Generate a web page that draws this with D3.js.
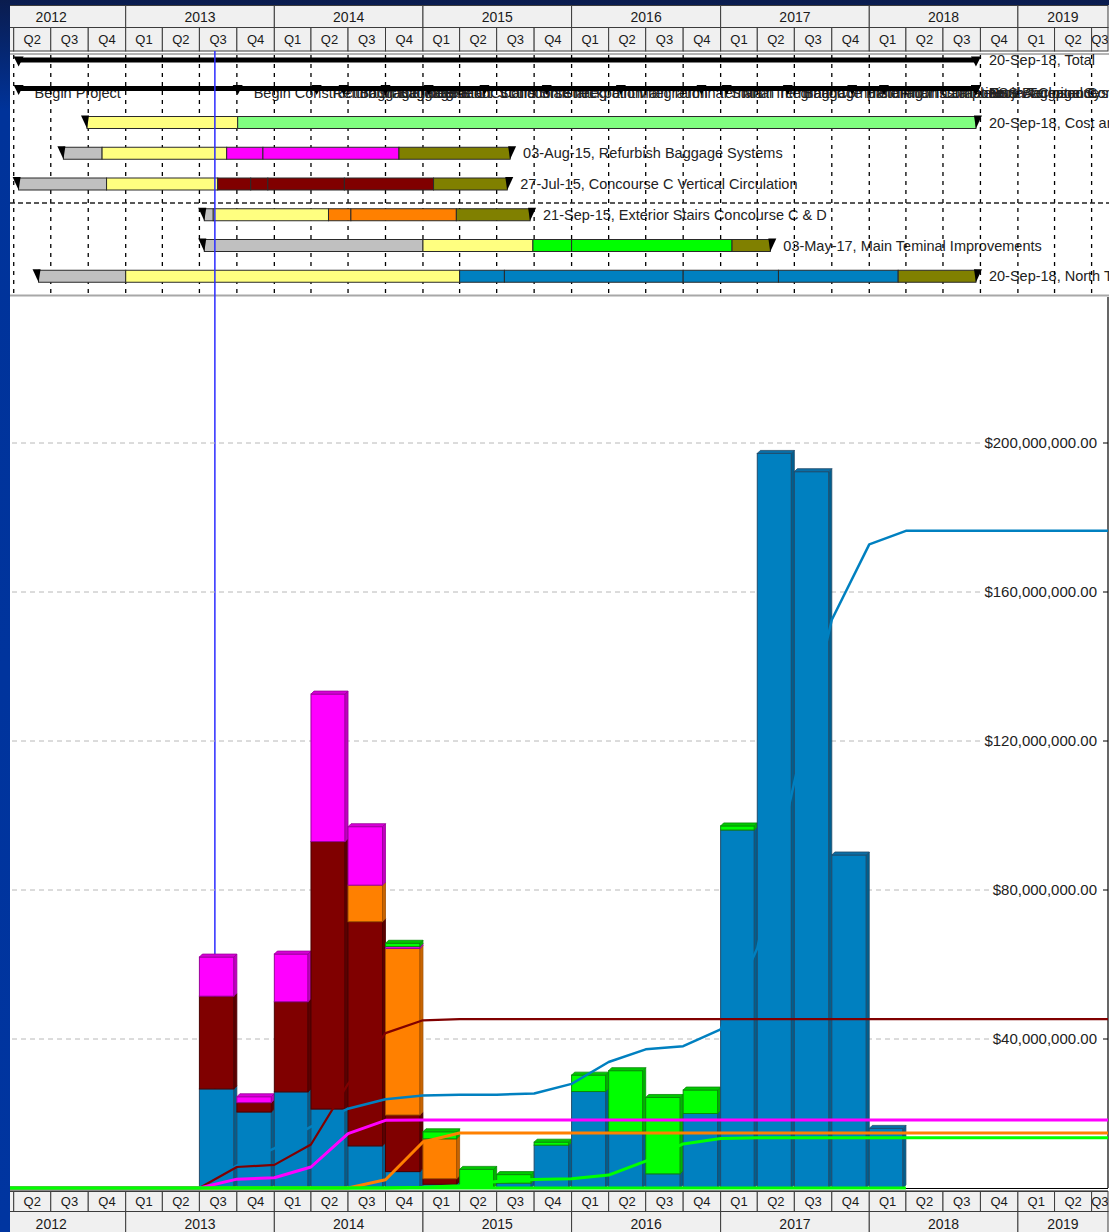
<!DOCTYPE html>
<html>
<head>
<meta charset="utf-8">
<title>Program Schedule and Quarterly Cost</title>
<script src="https://cdn.jsdelivr.net/npm/d3@7/dist/d3.min.js"></script>
<style>
  html, body { margin: 0; padding: 0; overflow: hidden; background: #003399; }
  svg { display: block; }
  text { font-family: "Liberation Sans", Arial, Helvetica, sans-serif; }
</style>
</head>
<body>
<svg id="chart" width="1109" height="1232"></svg>
<script>
// ---------- calendar ----------
const yearLabels = ["2012", "2013", "2014", "2015", "2016", "2017", "2018", "2019"];
const quarterLabels = ["Q1", "Q2", "Q3", "Q4"];
const viewStart = "2012-01-01";
const statusDate = "2013-08-08";

// ---------- schedule ----------
const totalSpan = ["2012-04-13", "2018-09-20"];
const totalLabel = "20-Sep-18, Total";

const milestoneDates = [
  "2012-04-13", "2013-10-03", "2014-04-15", "2014-06-20", "2014-10-01",
  "2015-01-15", "2015-06-01", "2015-11-01", "2016-05-01", "2016-11-15",
  "2017-01-16", "2017-06-15", "2017-11-20", "2018-02-06",
  "2018-09-20", "2018-09-20", "2018-09-20", "2018-09-20"
];
const milestoneNames = [
  "Begin Project", "Begin Construction Management", "Refurbish Baggage Start",
  "Baggage Integration", "Concourse C Circulation Start", "Exterior Stairs Start",
  "Concourse Integration", "Checkpoint Integration", "Main Terminal Start",
  "Terminal Integration", "Main Terminal Complete", "Baggage Handling Installation",
  "Installation Complete", "Final Installation",
  "North Terminal Complete", "ESS Baggage Systems", "Project Closeout", "Final Acceptance"
];

const taskKeys = ["cost", "baggage", "concourse", "stairs", "mainTerm", "north"];
const taskLabels = [
  "20-Sep-18, Cost and Schedule Management",
  "03-Aug-15, Refurbish Baggage Systems",
  "27-Jul-15, Concourse C Vertical Circulation",
  "21-Sep-15, Exterior Stairs Concourse C & D",
  "03-May-17, Main Teminal Improvements",
  "20-Sep-18, North Terminal Expansion"
];
// boundaries of each task's phases
const costBreaks      = ["2012-09-28", "2013-10-03", "2018-09-20"];
const baggageBreaks   = ["2012-08-01", "2012-11-04", "2013-09-06", "2013-12-04", "2014-11-03", "2015-08-03"];
const concourseBreaks = ["2012-04-13", "2012-11-15", "2013-08-15", "2013-11-04", "2013-12-16", "2014-06-22", "2015-01-27", "2015-07-27"];
const stairsBreaks    = ["2013-07-13", "2013-08-04", "2014-05-14", "2014-07-08", "2015-03-24", "2015-09-21"];
const mainTermBreaks  = ["2013-07-13", "2015-01-01", "2015-09-28", "2016-01-01", "2017-01-29", "2017-05-03"];
const northBreaks     = ["2012-06-01", "2013-01-01", "2015-04-01", "2015-07-20", "2016-10-01", "2017-05-23", "2018-03-13", "2018-09-20"];
// phase of each interval between breaks
const costPhases      = ["design", "build"];
const baggagePhases   = ["pre", "design", "build", "build", "close"];
const concoursePhases = ["pre", "design", "build", "build", "build", "build", "close"];
const stairsPhases    = ["pre", "design", "build", "build", "close"];
const mainTermPhases  = ["pre", "design", "build", "build", "close"];
const northPhases     = ["pre", "design", "build", "build", "build", "build", "close"];

// ---------- quarterly cost, $ millions ----------
const costQuarters = [
  "2013-07-01", "2013-10-01", "2014-01-01", "2014-04-01", "2014-07-01", "2014-10-01",
  "2015-01-01", "2015-04-01", "2015-07-01", "2015-10-01", "2016-01-01", "2016-04-01",
  "2016-07-01", "2016-10-01", "2017-01-01", "2017-04-01", "2017-07-01", "2017-10-01", "2018-01-01"
];
const northTerminal  = [26.6, 20.4, 25.8, 21.2, 11.3, 4.4, 1.0, 0, 1.3, 11.5, 25.9, 15.0, 3.8, 20.0, 96.1, 197.2, 192.3, 89.4, 16.0];
const concourseC     = [24.9, 2.5, 24.2, 71.8, 60.2, 15.2, 1.5, 0, 0, 0, 0, 0, 0, 0, 0, 0, 0, 0, 0];
const exteriorStairs = [0, 0, 0, 0, 9.8, 44.7, 10.7, 0, 0, 0, 0, 0, 0, 0, 0, 0, 0, 0, 0];
const baggageSystems = [10.5, 1.6, 12.8, 39.6, 15.7, 0.5, 0, 0, 0, 0, 0, 0, 0, 0, 0, 0, 0, 0, 0];
const mainTerminal   = [0, 0, 0, 0, 0, 0.9, 1.9, 5.0, 2.3, 0.8, 4.4, 16.5, 20.5, 6.3, 1.1, 0, 0, 0, 0];
const costManagement = [0, 0, 0, 0, 0, 0, 0, 0, 0, 0, 0, 0, 0, 0, 0, 0, 0, 0, 0];
const yTicks = [40, 80, 120, 160, 200];

// ---------- styling ----------
const W = 1109, H = 1232;
const RIGHT = 1108;
const phaseFill = { pre: "#c0c0c0", design: "#ffff80", close: "#808000" };
const taskFill = { cost: "#80ff80", baggage: "#ff00ff", concourse: "#800000", stairs: "#ff8000", mainTerm: "#00ff00", north: "#0080c0" };
const barShade = {
  north:     { face: "#0080c0", side: "#005f8f", top: "#0a6ea6", edge: "#1f4b6b" },
  concourse: { face: "#800000", side: "#5c0000", top: "#6c0000", edge: "#4a0000" },
  stairs:    { face: "#ff8000", side: "#c86400", top: "#e27000", edge: "#a45200" },
  baggage:   { face: "#ff00ff", side: "#c000c0", top: "#d600d6", edge: "#9a009a" },
  mainTerm:  { face: "#00ff00", side: "#00b400", top: "#00c800", edge: "#0a8a0a" }
};
const lineColor = { north: "#0080c0", concourse: "#800000", stairs: "#ff8000", baggage: "#ff00ff", mainTerm: "#00ff00", cost: "#00ff00" };
const lineWidth = { north: 2.5, concourse: 2.2, stairs: 3, baggage: 3, mainTerm: 3, cost: 3 };

const parse = d3.utcParse("%Y-%m-%d");
const svg = d3.select("#chart");

// ---------- scales ----------
const x = d3.scaleUtc()
  .domain([parse("2013-01-01"), parse("2019-01-01")])
  .range([125.7, 1017.9]);
const xLeft = x(parse(viewStart));
const y = d3.scaleLinear().domain([0, 240]).range([1188, 294]);      // quarterly cost
const yCum = d3.scaleLinear().domain([0, 1060]).range([1188, 294]);  // cumulative cost

// ---------- backdrop ----------
const defs = svg.append("defs");
const grad = defs.append("linearGradient").attr("id", "bgGrad")
  .attr("x1", 0).attr("y1", 0).attr("x2", 0).attr("y2", 1);
grad.append("stop").attr("offset", 0).attr("stop-color", "#0a1c4e");
grad.append("stop").attr("offset", 0.09).attr("stop-color", "#00339a");
grad.append("stop").attr("offset", 1).attr("stop-color", "#0035a0");
svg.append("rect").attr("width", W).attr("height", H).attr("fill", "url(#bgGrad)");
svg.append("rect").attr("x", 10).attr("y", 5).attr("width", W - 10).attr("height", H - 5).attr("fill", "#ffffff");

defs.append("clipPath").attr("id", "panelClip")
  .append("rect").attr("x", 10).attr("y", 5).attr("width", W - 10).attr("height", H - 5);

const root = svg.append("g").attr("clip-path", "url(#panelClip)");

// ---------- time header (years + quarters) ----------
let clipCount = 0;
function headerCells(g, cells, top, h, fontSize) {
  cells.forEach(c => {
    const x0 = Math.max(x(c.a), xLeft), x1 = Math.min(x(c.b), RIGHT);
    if (x1 <= 10 || x0 >= RIGHT) return;
    const id = "hc" + (clipCount++);
    defs.append("clipPath").attr("id", id)
      .append("rect").attr("x", x0).attr("y", top).attr("width", x1 - x0).attr("height", h);
    g.append("rect").attr("x", x0).attr("y", top).attr("width", x1 - x0).attr("height", h)
      .attr("fill", "#f0f0f0").attr("stroke", "#3c3c3c").attr("stroke-width", 1);
    g.append("text").attr("clip-path", `url(#${id})`)
      .attr("x", (x0 + x1) / 2).attr("y", top + h / 2).attr("dy", "0.36em")
      .attr("text-anchor", "middle").attr("font-size", fontSize).attr("fill", "#1a1a1a")
      .text(c.label);
  });
}
const yearCells = yearLabels.map(l => {
  const a = parse(l + "-01-01");
  return { label: l, a, b: d3.utcYear.offset(a, 1) };
});
const quarterCells = [];
yearLabels.forEach(l => quarterLabels.forEach((q, i) => {
  const a = d3.utcMonth.offset(parse(l + "-01-01"), i * 3);
  quarterCells.push({ label: q, a, b: d3.utcMonth.offset(a, 3) });
}));

const topHeader = root.append("g");
headerCells(topHeader, yearCells, 5.5, 22, 14);
headerCells(topHeader, quarterCells, 27.5, 23.5, 13);
topHeader.append("line").attr("x1", 10).attr("x2", W).attr("y1", 54).attr("y2", 54)
  .attr("stroke", "#6a6a6a").attr("stroke-width", 1);

// ---------- gantt ----------
const gantt = root.append("g");
const rowTop = i => 116.5 + i * 30.75;   // task rows
const BAR_H = 12;
const LABEL_FS = 14.5;

// labels (drawn first; grid and bars sit above them)
gantt.append("text").attr("x", x(parse(totalSpan[1])) + 13).attr("y", 60).attr("dy", "0.36em")
  .attr("font-size", LABEL_FS).attr("fill", "#222").text(totalLabel);
milestoneDates.forEach((d, i) => {
  gantt.append("text").attr("x", x(parse(d)) + (i < 14 ? 16 : 13)).attr("y", 93).attr("dy", "0.36em")
    .attr("font-size", LABEL_FS).attr("fill", "#222").text(milestoneNames[i]);
});
taskKeys.forEach((k, i) => {
  const br = [costBreaks, baggageBreaks, concourseBreaks, stairsBreaks, mainTermBreaks, northBreaks][i];
  gantt.append("text").attr("x", x(parse(br[br.length - 1])) + 13).attr("y", rowTop(i) + BAR_H / 2)
    .attr("dy", "0.36em").attr("font-size", LABEL_FS).attr("fill", "#222").text(taskLabels[i]);
});

// dashed grid at quarter boundaries
const quarterEdges = quarterCells.map(c => x(c.a)).filter(v => v > 10 && v < W);
gantt.selectAll("line.vgrid").data(quarterEdges).join("line").attr("class", "vgrid")
  .attr("x1", d => d).attr("x2", d => d).attr("y1", 55).attr("y2", 294)
  .attr("stroke", "#000").attr("stroke-width", 1.3).attr("stroke-dasharray", "4,5");
gantt.append("line").attr("x1", 10).attr("x2", W).attr("y1", 203).attr("y2", 203)
  .attr("stroke", "#222").attr("stroke-width", 1.3).attr("stroke-dasharray", "5,3");

function downTri(g, xc, top, w, h) {
  g.append("path").attr("d", `M${xc - w / 2},${top}L${xc + w / 2},${top}L${xc},${top + h}Z`).attr("fill", "#000");
}

// total summary bar
const tx0 = x(parse(totalSpan[0])), tx1 = x(parse(totalSpan[1]));
gantt.append("rect").attr("x", tx0).attr("y", 57.5).attr("width", tx1 - tx0).attr("height", 5).attr("fill", "#000");
downTri(gantt, tx0, 56.5, 10, 10);
downTri(gantt, tx1, 56.5, 10, 10);

// milestone strip
gantt.append("rect").attr("x", tx0).attr("y", 86).attr("width", tx1 - tx0).attr("height", 5).attr("fill", "#000");
milestoneDates.forEach(d => downTri(gantt, x(parse(d)), 85, 10, 10));

// task bars
const allBreaks = [costBreaks, baggageBreaks, concourseBreaks, stairsBreaks, mainTermBreaks, northBreaks];
const allPhases = [costPhases, baggagePhases, concoursePhases, stairsPhases, mainTermPhases, northPhases];
taskKeys.forEach((k, i) => {
  const br = allBreaks[i], ph = allPhases[i];
  const top = rowTop(i);
  ph.forEach((p, j) => {
    const a = x(parse(br[j])), b = x(parse(br[j + 1]));
    gantt.append("rect").attr("x", a).attr("y", top).attr("width", b - a).attr("height", BAR_H)
      .attr("fill", p === "build" ? taskFill[k] : phaseFill[p])
      .attr("stroke", "#2a2a2a").attr("stroke-width", 1);
  });
  const s = x(parse(br[0])), e = x(parse(br[br.length - 1]));
  gantt.append("path").attr("d", `M${s - 6},${top - 1}L${s + 2},${top - 1}L${s},${top + 12}Z`).attr("fill", "#000");
  gantt.append("path").attr("d", `M${e - 2},${top - 1}L${e + 6},${top - 1}L${e},${top + 12}Z`).attr("fill", "#000");
});

// gantt / chart separator
root.append("line").attr("x1", 10).attr("x2", W).attr("y1", 295.5).attr("y2", 295.5)
  .attr("stroke", "#a8a8a8").attr("stroke-width", 2);

// status date line
const sx = x(parse(statusDate));
root.append("line").attr("x1", sx).attr("x2", sx).attr("y1", 51).attr("y2", 1188)
  .attr("stroke", "#2b2bff").attr("stroke-width", 1.5);

// ---------- cost chart ----------
const plot = root.append("g");

// y grid and labels
const yAxis = plot.append("g");
yTicks.forEach(t => {
  const yy = y(t);
  const lbl = yAxis.append("text").attr("x", 1097).attr("y", yy).attr("dy", "0.36em")
    .attr("text-anchor", "end").attr("font-size", 15).attr("fill", "#222")
    .text(d3.format("$,.2f")(t * 1e6));
  const wLbl = lbl.node().getComputedTextLength();
  yAxis.insert("line", "text").attr("x1", 12).attr("x2", 1097 - wLbl - 3).attr("y1", yy).attr("y2", yy)
    .attr("stroke", "#b8b8b8").attr("stroke-width", 1).attr("stroke-dasharray", "5,4");
  yAxis.append("line").attr("x1", 1103).attr("x2", RIGHT).attr("y1", yy).attr("y2", yy)
    .attr("stroke", "#000").attr("stroke-width", 1);
});
yAxis.append("line").attr("x1", RIGHT).attr("x2", RIGHT).attr("y1", 297).attr("y2", 1188)
  .attr("stroke", "#000").attr("stroke-width", 1.2);

// stacked quarterly bars
const seriesKeys = ["north", "concourse", "stairs", "baggage", "mainTerm"];
const seriesValues = { north: northTerminal, concourse: concourseC, stairs: exteriorStairs, baggage: baggageSystems, mainTerm: mainTerminal };
const table = costQuarters.map((q, i) => {
  const row = { q };
  seriesKeys.forEach(k => row[k] = seriesValues[k][i]);
  return row;
});
const stacked = d3.stack().keys(seriesKeys)(table);
const D = 3;
const bars = plot.append("g");
table.forEach((row, i) => {
  const qa = parse(row.q), qb = d3.utcMonth.offset(qa, 3);
  const xa = x(qa), xb = x(qb);
  const present = seriesKeys.filter(k => row[k] > 0);
  const topKey = present[present.length - 1];
  stacked.forEach(layer => {
    const k = layer.key;
    if (row[k] <= 0) return;
    const s = barShade[k];
    const yt = y(layer[i][1]), yb = y(layer[i][0]);
    bars.append("rect").attr("x", xa).attr("y", yt).attr("width", xb - xa - D).attr("height", yb - yt)
      .attr("fill", s.face).attr("stroke", s.edge).attr("stroke-width", 1);
    bars.append("path")
      .attr("d", `M${xb - D},${yt}L${xb},${yt - D}L${xb},${yb - D}L${xb - D},${yb}Z`)
      .attr("fill", s.side).attr("stroke", s.edge).attr("stroke-width", 0.8);
    if (k === topKey) {
      bars.append("path")
        .attr("d", `M${xa},${yt}L${xa + D},${yt - D}L${xb},${yt - D}L${xb - D},${yt}Z`)
        .attr("fill", s.top).attr("stroke", s.edge).attr("stroke-width", 0.8);
    }
  });
});

// x axis base line
plot.append("line").attr("x1", 10).attr("x2", RIGHT).attr("y1", 1188.5).attr("y2", 1188.5)
  .attr("stroke", "#000").attr("stroke-width", 1.2);

// cumulative cost lines
const viewEndDate = x.invert(RIGHT);
function cumulativePoints(values, extend) {
  const cum = d3.cumsum(values);
  const pts = [{ d: parse(viewStart), v: 0 }, { d: parse(costQuarters[0]), v: 0 }];
  costQuarters.forEach((q, i) => pts.push({ d: d3.utcMonth.offset(parse(q), 3), v: cum[i] }));
  if (extend) pts.push({ d: viewEndDate, v: cum[cum.length - 1] });
  return pts;
}
const cumLine = d3.line().x(p => x(p.d)).y(p => yCum(p.v));
const lineOrder = [
  ["north", northTerminal, true], ["concourse", concourseC, true], ["stairs", exteriorStairs, true],
  ["baggage", baggageSystems, true], ["mainTerm", mainTerminal, true], ["cost", costManagement, false]
];
const lines = plot.append("g").attr("fill", "none").attr("stroke-linejoin", "round");
lineOrder.forEach(([k, vals, ext]) => {
  lines.append("path").datum(cumulativePoints(vals, ext)).attr("d", cumLine)
    .attr("stroke", lineColor[k]).attr("stroke-width", lineWidth[k]);
});

// bottom time header
const bottomHeader = root.append("g");
bottomHeader.append("line").attr("x1", 10).attr("x2", RIGHT).attr("y1", 1190.5).attr("y2", 1190.5)
  .attr("stroke", "#8a8a8a").attr("stroke-width", 1);
headerCells(bottomHeader, quarterCells, 1191.5, 20, 13);
headerCells(bottomHeader, yearCells, 1211.5, 24, 14);
</script>
</body>
</html>
